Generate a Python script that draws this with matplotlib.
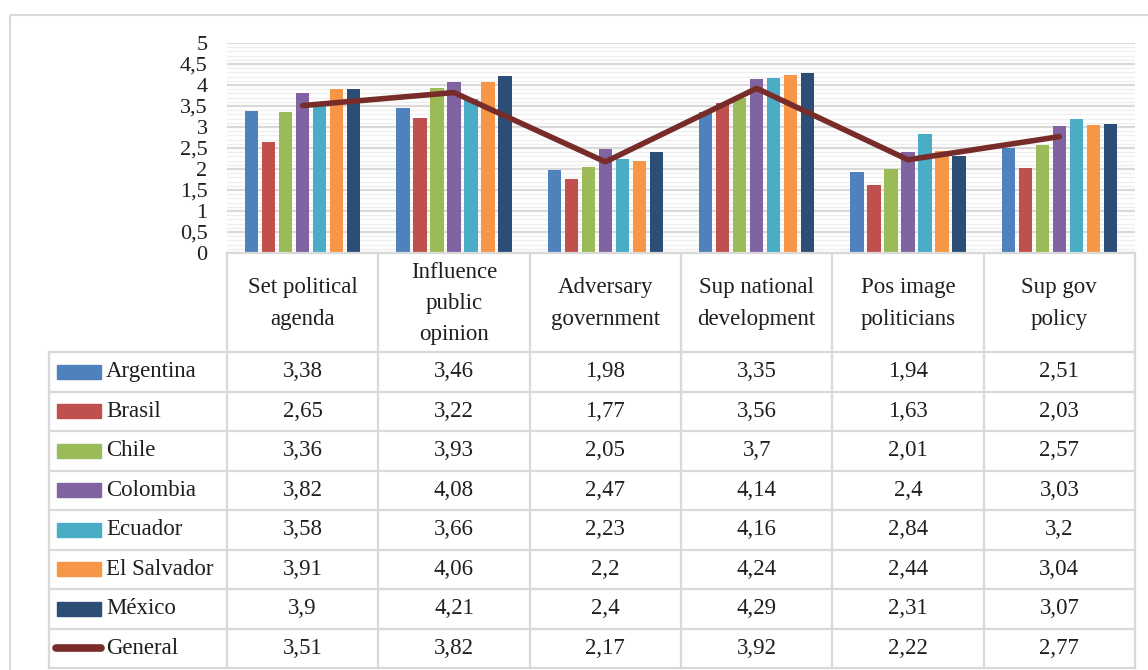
import numpy as np
import matplotlib.pyplot as plt
from matplotlib.patches import Rectangle
from matplotlib.lines import Line2D

# datos
categorias = ["Set political\nagenda", "Influence\npublic\nopinion", "Adversary\ngovernment",
              "Sup national\ndevelopment", "Pos image\npoliticians", "Sup gov\npolicy"]
paises = ["Argentina", "Brasil", "Chile", "Colombia", "Ecuador", "El Salvador", "México"]
argentina = [3.38, 3.46, 1.98, 3.35, 1.94, 2.51]
brasil = [2.65, 3.22, 1.77, 3.56, 1.63, 2.03]
chile = [3.36, 3.93, 2.05, 3.70, 2.01, 2.57]
colombia = [3.82, 4.08, 2.47, 4.14, 2.40, 3.03]
ecuador = [3.58, 3.66, 2.23, 4.16, 2.84, 3.20]
el_salvador = [3.91, 4.06, 2.20, 4.24, 2.44, 3.04]
mexico = [3.90, 4.21, 2.40, 4.29, 2.31, 3.07]
general = [3.51, 3.82, 2.17, 3.92, 2.22, 2.77]
series = [argentina, brasil, chile, colombia, ecuador, el_salvador, mexico]
colores = ["#4F81BD", "#C0504D", "#9BBB59", "#8064A2", "#4BACC6", "#F79646", "#2C4D75"]
color_general = "#772C2A"

W, H = 1148, 670
fuente = "Liberation Serif"
fs = 16.5
txt_col = "#1F1F1F"
gris = "#D9D9D9"

fig = plt.figure(figsize=(W / 100, H / 100), dpi=100)

# zona del grafico (en pixeles)
x0, x1 = 227, 1135
y_top, y_bot = 43, 253
ax = fig.add_axes([x0 / W, 1 - y_bot / H, (x1 - x0) / W, (y_bot - y_top) / H])

x = np.arange(len(categorias))
paso = 0.112
ancho = 0.088
for i, (vals, c) in enumerate(zip(series, colores)):
    ax.bar(x + (i - 3) * paso, vals, width=ancho, color=c, zorder=3)
ax.plot(x, general, color=color_general, lw=4, solid_capstyle="round",
        solid_joinstyle="round", zorder=4)

ax.set_xlim(-0.5, len(categorias) - 0.5)
ax.set_ylim(0, 5)
ax.set_yticks(np.arange(0, 5.01, 0.5))
ax.set_yticklabels([f"{v:g}".replace(".", ",") for v in np.arange(0, 5.01, 0.5)],
                   fontfamily=fuente, fontsize=16, color=txt_col)
ax.set_yticks(np.arange(0, 5.01, 0.1), minor=True)
ax.grid(axis="y", which="major", color=gris, lw=1.6, zorder=0)
ax.grid(axis="y", which="minor", color="#EEEEEE", lw=0.9, zorder=0)
ax.set_xticks([])
ax.tick_params(axis="y", which="both", length=0, pad=14)
for s in ax.spines.values():
    s.set_visible(False)

# tabla de datos dibujada encima
ov = fig.add_axes([0, 0, 1, 1])
ov.set_xlim(0, W)
ov.set_ylim(H, 0)
ov.axis("off")

# borde exterior del grafico
ov.add_patch(Rectangle((10, 15), W + 20, H + 20, fill=False, ec=gris, lw=1.5))

col_w = (x1 - x0) / len(categorias)
lab_x0 = 49
head_bot = 352
fila_h = (668 - head_bot) / 8
lw_t = 1.6

# lineas de la tabla
ov.add_line(Line2D([x0, x1], [y_bot, y_bot], color=gris, lw=lw_t))
for j in range(len(categorias) + 1):
    ov.add_line(Line2D([x0 + j * col_w] * 2, [y_bot, 668], color=gris, lw=lw_t))
for r in range(9):
    yy = head_bot + r * fila_h
    ov.add_line(Line2D([lab_x0, x1], [yy, yy], color=gris, lw=lw_t))
ov.add_line(Line2D([lab_x0, lab_x0], [head_bot, 668], color=gris, lw=lw_t))

for j, cat in enumerate(categorias):
    ov.text(x0 + (j + 0.5) * col_w, (y_bot + head_bot) / 2 + 1, cat, ha="center", va="center",
            fontfamily=fuente, fontsize=fs, color=txt_col, linespacing=1.65)

nombres = paises + ["General"]
filas = series + [general]
for r, (nom, vals) in enumerate(zip(nombres, filas)):
    yc = head_bot + (r + 0.5) * fila_h
    if r < len(paises):
        ov.add_patch(Rectangle((57, yc - 7), 44, 14, color=colores[r]))
    else:
        ov.add_line(Line2D([56, 101], [yc, yc], color=color_general, lw=5.5,
                           solid_capstyle="round"))
    ov.text(106, yc, nom, ha="left", va="center", fontfamily=fuente, fontsize=fs,
            color=txt_col)
    for j, v in enumerate(vals):
        ov.text(x0 + (j + 0.5) * col_w, yc, f"{v:g}".replace(".", ","), ha="center",
                va="center", fontfamily=fuente, fontsize=fs, color=txt_col)

fig.savefig("out.png", dpi=100)
